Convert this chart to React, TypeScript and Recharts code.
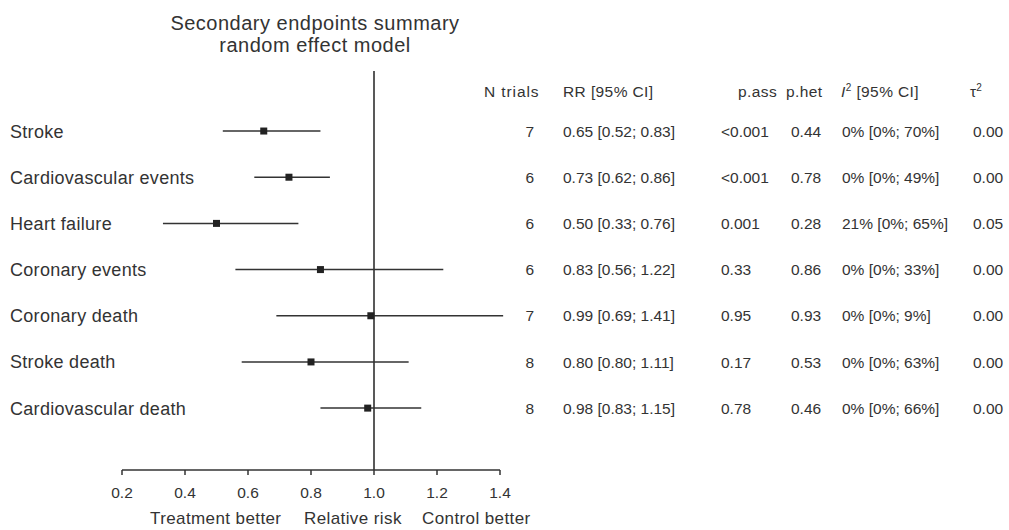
import React from 'react';
import { ComposedChart, XAxis, YAxis, Scatter, ReferenceLine } from 'recharts';

const endpoints = [
  'Stroke',
  'Cardiovascular events',
  'Heart failure',
  'Coronary events',
  'Coronary death',
  'Stroke death',
  'Cardiovascular death',
];
const rowIndex = [1, 2, 3, 4, 5, 6, 7];
const rrValues = [0.65, 0.73, 0.5, 0.83, 0.99, 0.8, 0.98];
const ciLower = [0.52, 0.62, 0.33, 0.56, 0.69, 0.58, 0.83];
const ciUpper = [0.83, 0.86, 0.76, 1.22, 1.41, 1.11, 1.15];
const nTrials = ['7', '6', '6', '6', '7', '8', '8'];
const rrText = [
  '0.65 [0.52; 0.83]',
  '0.73 [0.62; 0.86]',
  '0.50 [0.33; 0.76]',
  '0.83 [0.56; 1.22]',
  '0.99 [0.69; 1.41]',
  '0.80 [0.80; 1.11]',
  '0.98 [0.83; 1.15]',
];
const pAss = ['<0.001', '<0.001', '0.001', '0.33', '0.95', '0.17', '0.78'];
const pHet = ['0.44', '0.78', '0.28', '0.86', '0.93', '0.53', '0.46'];
const i2Text = [
  '0% [0%; 70%]',
  '0% [0%; 49%]',
  '21% [0%; 65%]',
  '0% [0%; 33%]',
  '0% [0%; 9%]',
  '0% [0%; 63%]',
  '0% [0%; 66%]',
];
const tau2 = ['0.00', '0.00', '0.05', '0.00', '0.00', '0.00', '0.00'];
const xTicks = [0.2, 0.4, 0.6, 0.8, 1.0, 1.2, 1.4];

const data = endpoints.map((name, i) => ({
  name,
  row: rowIndex[i],
  rr: rrValues[i],
  lo: ciLower[i],
  hi: ciUpper[i],
}));

const FONT = '"Liberation Sans", Arial, Helvetica, sans-serif';
const TXT = '#333';

const COL = {
  nEnd: 534,
  rr: 563,
  pAss: 721,
  pHet: 791,
  i2: 842,
  tau: 973,
};

const RowTick = (props: any) => {
  const { y, payload } = props;
  const i = rowIndex.indexOf(payload.value);
  if (i < 0) return null;
  const t = { fontFamily: FONT, fill: TXT, fontSize: 15.5, dy: '0.36em' } as any;
  return (
    <g>
      <text x={10} y={y} {...t} fontSize={18} letterSpacing={0.3} textAnchor="start">
        {endpoints[i]}
      </text>
      <text x={COL.nEnd} y={y} {...t} textAnchor="end">{nTrials[i]}</text>
      <text x={COL.rr} y={y} {...t} textAnchor="start">{rrText[i]}</text>
      <text x={COL.pAss} y={y} {...t} textAnchor="start">{pAss[i]}</text>
      <text x={COL.pHet} y={y} {...t} textAnchor="start">{pHet[i]}</text>
      <text x={COL.i2} y={y} {...t} textAnchor="start">{i2Text[i]}</text>
      <text x={COL.tau} y={y} {...t} textAnchor="start">{tau2[i]}</text>
    </g>
  );
};

const Square = (props: any) => {
  const { cx, cy } = props;
  if (cx == null || cy == null) return null;
  return <rect x={cx - 3.5} y={cy - 3.5} width={7} height={7} fill="#222" />;
};

export default function App() {
  return (
    <div style={{ position: 'absolute', left: 0, top: 0, width: 1009, height: 530, background: '#fff' }}>
      <ComposedChart
        width={1009}
        height={530}
        data={data}
        margin={{ top: 71, right: 509, bottom: 0, left: 0 }}
      >
        <XAxis
          type="number"
          dataKey="rr"
          domain={[0.2, 1.4]}
          ticks={xTicks}
          tickFormatter={(v: number) => v.toFixed(1)}
          height={60}
          tickSize={5}
          tickMargin={12}
          axisLine={{ stroke: '#333', strokeWidth: 1.5 }}
          tickLine={{ stroke: '#333', strokeWidth: 1.5 }}
          tick={{ fill: TXT, fontSize: 15.5, fontFamily: FONT }}
          allowDataOverflow
        />
        <YAxis
          type="number"
          dataKey="row"
          domain={[-0.3, 8.34]}
          reversed
          ticks={rowIndex}
          width={122}
          axisLine={false}
          tickLine={false}
          tick={<RowTick />}
          allowDataOverflow
        />
        <ReferenceLine x={1} stroke="#222" strokeWidth={1.5} ifOverflow="visible" />
        {data.map((d) => (
          <ReferenceLine
            key={d.name}
            segment={[
              { x: d.lo, y: d.row },
              { x: d.hi, y: d.row },
            ]}
            stroke="#333"
            strokeWidth={1.5}
            ifOverflow="visible"
          />
        ))}
        <Scatter dataKey="rr" shape={<Square />} isAnimationActive={false} />
      </ComposedChart>
      <svg
        width={1009}
        height={530}
        style={{ position: 'absolute', left: 0, top: 0, pointerEvents: 'none' }}
      >
        <g fontFamily={FONT} fill={TXT}>
          <text x={315} y={30} fontSize={20} letterSpacing={0.5} textAnchor="middle">
            Secondary endpoints summary
          </text>
          <text x={315} y={52} fontSize={20} letterSpacing={0.5} textAnchor="middle">
            random effect model
          </text>
          <g fontSize={15.5}>
            <text x={484} y={97} letterSpacing={0.9}>N trials</text>
            <text x={563} y={97} letterSpacing={0.4}>RR [95% CI]</text>
            <text x={738} y={97} letterSpacing={0.4}>p.ass</text>
            <text x={786} y={97} letterSpacing={0.4}>p.het</text>
            <text x={841} y={97} letterSpacing={0.4}>
              <tspan fontStyle="italic">I</tspan>
              <tspan fontSize={10} dy={-6}>2</tspan>
              <tspan dy={6}> [95% CI]</tspan>
            </text>
            <text x={970} y={97}>
              <tspan>τ</tspan>
              <tspan fontSize={10} dy={-6}>2</tspan>
            </text>
          </g>
          <g fontSize={17} letterSpacing={0.4}>
            <text x={150} y={524}>Treatment better</text>
            <text x={304} y={524}>Relative risk</text>
            <text x={422} y={524}>Control better</text>
          </g>
        </g>
      </svg>
    </div>
  );
}
